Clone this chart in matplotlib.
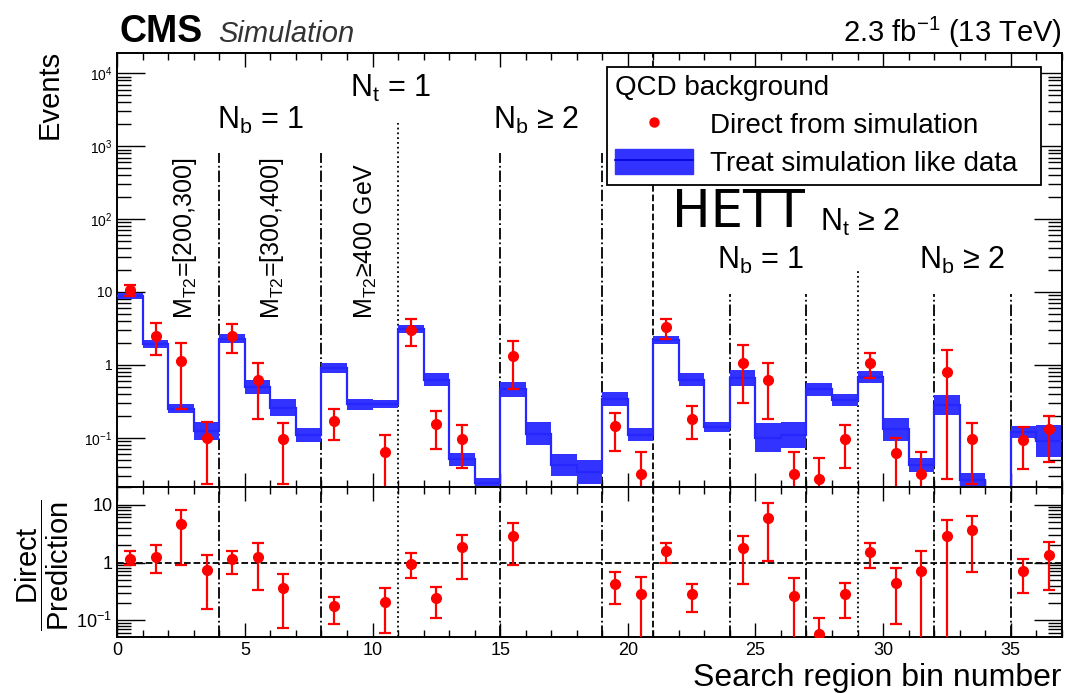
import numpy as np
import matplotlib
matplotlib.use('Agg')
import matplotlib.pyplot as plt
from matplotlib.lines import Line2D
from matplotlib.patches import Patch

plt.rcParams['font.family'] = ['Liberation Sans', 'DejaVu Sans']
plt.rcParams['mathtext.fontset'] = 'custom'
plt.rcParams['mathtext.rm'] = 'Liberation Sans'
plt.rcParams['mathtext.it'] = 'Liberation Sans:italic'
plt.rcParams['mathtext.bf'] = 'Liberation Sans:bold'
plt.rcParams['mathtext.default'] = 'regular'

nan = np.nan

# 1. Данные: предсказание (гистограмма) и ширина полосы (множитель)
pred = [8.9, 1.95, 0.25, 0.125, 2.3, 0.5, 0.26, 0.11, 0.91, 0.29, 0.29,
        3.1, 0.63, 0.051, 0.024, 0.46, 0.113, 0.042, 0.034, 0.34, 0.11,
        2.2, 0.63, 0.14, 0.66, 0.10, 0.11, 0.46, 0.33, 0.68, 0.13,
        0.042, 0.28, 0.026, 0.012, 0.12, 0.09]
pred_unc = [1.10, 1.135, 1.15, 1.33, 1.15, 1.25, 1.29, 1.25, 1.17, 1.19, 1.12,
            1.15, 1.23, 1.23, 1.17, 1.27, 1.44, 1.42, 1.46, 1.23, 1.23,
            1.135, 1.23, 1.17, 1.27, 1.58, 1.51, 1.21, 1.21, 1.21, 1.42,
            1.25, 1.37, 1.27, 1.25, 1.21, 1.66]

# 2. Прямо из симуляции (точки) и концы погрешностей
direct = [10.8, 2.5, 1.14, 0.10, 2.5, 0.63, 0.097, nan, 0.17, nan, 0.063,
          3.0, 0.155, 0.095, nan, 1.34, nan, nan, nan, 0.145, 0.032,
          3.35, 0.18, nan, 1.07, 0.63, 0.032, 0.027, 0.097, 1.05, 0.061,
          0.032, 0.81, 0.097, nan, 0.093, 0.13]
direct_hi = [12.6, 3.8, 2.0, 0.167, 3.6, 1.07, 0.16, nan, 0.25, nan, 0.11,
             4.3, 0.23, 0.15, nan, 2.1, nan, nan, nan, 0.22, 0.063,
             4.3, 0.27, nan, 1.9, 1.07, 0.063, 0.053, 0.15, 1.46, 0.10,
             0.063, 1.6, 0.16, nan, 0.14, 0.2]
direct_lo = [8.7, 1.38, 0.25, 0.023, 1.46, 0.18, 0.023, nan, 0.094, nan, 0.001,
             1.8, 0.07, 0.039, nan, 0.47, nan, nan, nan, 0.065, 0.001,
             2.3, 0.096, nan, 0.3, 0.18, 0.001, 0.001, 0.039, 0.66, 0.001,
             0.001, 0.027, 0.023, nan, 0.037, 0.046]

# 3. Отношение Direct / Prediction
ratio = [1.17, 1.27, 4.6, 0.75, 1.13, 1.27, 0.36, nan, 0.18, nan, 0.21,
         0.96, 0.24, 1.83, nan, 2.86, nan, nan, nan, 0.43, 0.29,
         1.56, 0.29, nan, 1.76, 5.9, 0.26, 0.059, 0.29, 1.5, 0.45,
         0.72, 2.86, 3.6, nan, 0.72, 1.33]
ratio_hi = [1.56, 2.0, 8.2, 1.33, 1.56, 2.15, 0.64, nan, 0.25, nan, 0.36,
            1.44, 0.38, 3.0, nan, 4.8, nan, nan, nan, 0.69, 0.57,
            2.15, 0.43, nan, 2.86, 10.8, 0.55, 0.11, 0.45, 2.15, 0.82,
            1.56, 5.5, 6.4, nan, 1.17, 2.24]
ratio_lo = [0.92, 0.67, 0.92, 0.16, 0.64, 0.34, 0.075, nan, 0.088, nan, 0.06,
            0.55, 0.108, 0.52, nan, 0.89, nan, nan, nan, 0.19, 0.01,
            1.0, 0.14, nan, 0.43, 1.08, 0.01, 0.01, 0.11, 0.82, 0.088,
            0.01, 0.01, 0.69, nan, 0.3, 0.34]

# границы областей: (x, верх линии, стиль)
separators = [(4, 800, 'dashdot'), (8, 800, 'dashdot'), (11, 2100, 'dotted'),
              (15, 800, 'dashdot'), (19, 800, 'dashdot'), (21, 3e4, 'dashed'),
              (24, 9.5, 'dashdot'), (27, 9.5, 'dashdot'), (29, 20, 'dotted'),
              (32, 9.5, 'dashdot'), (35, 9.5, 'dashdot')]

pred = np.array(pred)
pred_unc = np.array(pred_unc)
direct = np.array(direct)
ratio = np.array(ratio)
edges = np.arange(len(pred) + 1)
centers = edges[:-1] + 0.5

band_col = '#3333ff'
line_col = '#2626ff'

fig = plt.figure(figsize=(10.66, 6.93), dpi=100)
ax = fig.add_axes([0.110, 0.297, 0.886, 0.6265])
axr = fig.add_axes([0.110, 0.081, 0.886, 0.216])

# 4. Верхняя панель
ax.stairs(pred * pred_unc, edges, baseline=pred / pred_unc, fill=True,
          color=band_col, lw=0, zorder=2)
ax.stairs(pred, edges, baseline=None, color=line_col, lw=1.6, zorder=3)
ax.errorbar(centers, direct,
            yerr=[direct - np.array(direct_lo), np.array(direct_hi) - direct],
            fmt='o', color='red', ms=7, lw=1.6, capsize=4, capthick=1.6, zorder=4)

for xs, ytop, ls in separators:
    ax.plot([xs, xs], [1e-3, ytop], color='black', ls=ls, lw=1.3, zorder=1)
    axr.axvline(xs, color='black', ls=ls, lw=1.3, zorder=1)

ax.set_yscale('log')
ax.set_xlim(0, 37)
ax.set_ylim(0.021, 1.9e4)
ax.set_yticks([0.1, 1, 10, 100, 1000, 10000])
ax.set_yticklabels(['$10^{-1}$', '1', '10', '$10^{2}$', '$10^{3}$', '$10^{4}$'])
ax.set_xticks(range(0, 38, 5))
ax.set_xticks(range(0, 38), minor=True)
ax.tick_params(axis='x', labelbottom=False)

ax.text(10.7, 6200, 'N$_{t}$ = 1', fontsize=22, ha='center', va='center')
ax.text(5.6, 2250, 'N$_{b}$ = 1', fontsize=22, ha='center', va='center')
ax.text(16.4, 2250, 'N$_{b}$ ≥ 2', fontsize=22, ha='center', va='center')
ax.text(29.1, 90, 'N$_{t}$ ≥ 2', fontsize=22, ha='center', va='center')
ax.text(25.2, 27, 'N$_{b}$ = 1', fontsize=22, ha='center', va='center')
ax.text(33.1, 27, 'N$_{b}$ ≥ 2', fontsize=22, ha='center', va='center')
ax.text(24.35, 123, 'HETT', fontsize=37, family='DejaVu Sans',
        ha='center', va='center', zorder=6)

ax.text(2.67, 4.3, 'M$_{T2}$=[200,300]', rotation=90, fontsize=18,
        ha='center', va='bottom')
ax.text(6.08, 4.3, 'M$_{T2}$=[300,400]', rotation=90, fontsize=18,
        ha='center', va='bottom')
ax.text(9.73, 4.3, 'M$_{T2}$≥400 GeV', rotation=90, fontsize=18,
        ha='center', va='bottom')

handles = [Line2D([], [], marker='o', color='red', ls='none', ms=6.5),
           (Patch(color=band_col), Line2D([], [], color='#0000dd', lw=1.2))]
leg = ax.legend(handles, ['Direct from simulation', 'Treat simulation like data'],
                title='QCD background', alignment='left', fontsize=20,
                title_fontsize=20, loc='upper left',
                bbox_to_anchor=(0.5694, 0.740, 0.407, 0.1633),
                bbox_transform=fig.transFigure, mode='expand',
                handlelength=2.8, handleheight=1.0, handletextpad=0.6,
                labelspacing=0.35, borderaxespad=0, borderpad=0.3,
                fancybox=False, framealpha=1, edgecolor='black')
leg.get_frame().set_linewidth(1.3)
leg.set_zorder(10)

# 5. Нижняя панель: отношение
axr.axhline(1, color='black', ls='--', lw=1.3)
axr.errorbar(centers, ratio,
             yerr=[ratio - np.array(ratio_lo), np.array(ratio_hi) - ratio],
             fmt='o', color='red', ms=7, lw=1.6, capsize=4, capthick=1.6, zorder=4)
axr.set_yscale('log')
axr.set_xlim(0, 37)
axr.set_ylim(0.052, 20)
axr.set_yticks([0.1, 1, 10])
axr.set_yticklabels(['$10^{-1}$', '1', '10'])
axr.set_xticks(range(0, 38, 5))
axr.set_xticks(range(0, 38), minor=True)

for a in (ax, axr):
    a.tick_params(which='both', direction='in', top=True, right=True)
    a.tick_params(axis='y', which='major', length=20, width=1)
    a.tick_params(axis='y', which='minor', length=10, width=1)
    a.tick_params(axis='x', which='major', length=10, width=1)
    a.tick_params(axis='x', which='minor', length=5, width=1)
    for s in a.spines.values():
        s.set_linewidth(1.4)
ax.tick_params(axis='y', labelsize=10)
axr.tick_params(axis='y', labelsize=13)
axr.tick_params(axis='x', labelsize=13)

# 6. Подписи
fig.text(0.112, 0.94, 'CMS', fontsize=27, fontweight='bold', va='baseline')
fig.text(0.205, 0.94, 'Simulation', fontsize=21, style='italic',
         color='#333333', va='baseline')
fig.text(0.996, 0.94, '2.3 fb$^{-1}$ (13 TeV)', fontsize=21, ha='right',
         va='baseline')
fig.text(0.047, 0.928, 'Events', fontsize=21, rotation=90, ha='center', va='top')
fig.text(0.040, 0.185, r'$\dfrac{\mathrm{Direct}}{\mathrm{Prediction}}$',
         fontsize=21, rotation=90, ha='center', va='center')
fig.text(0.996, 0.022, 'Search region bin number', fontsize=23, ha='right',
         va='center')

plt.savefig('out.png', dpi=100)
